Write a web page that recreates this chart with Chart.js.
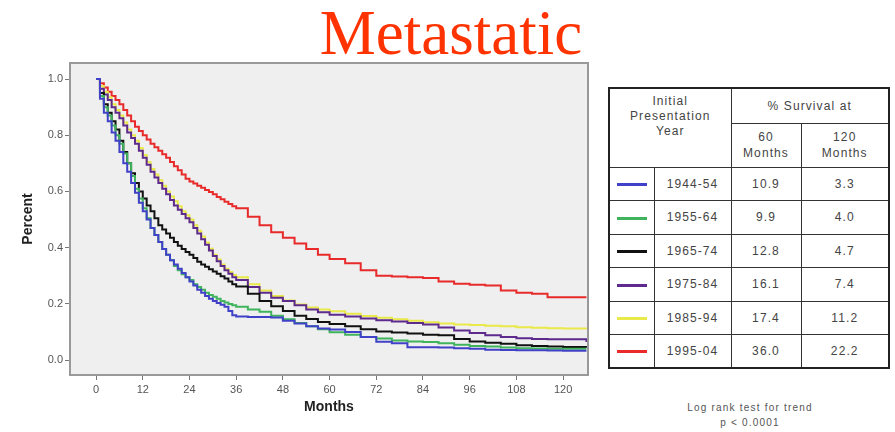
<!DOCTYPE html>
<html>
<head>
<meta charset="utf-8">
<script src="https://cdn.jsdelivr.net/npm/chart.js@4.4.1/dist/chart.umd.min.js"></script>
<style>
  body { margin: 0; background: #fff; width: 895px; height: 432px; position: relative; overflow: hidden; font-family: "Liberation Sans", Arial, sans-serif; }
  #title { position: absolute; left: 451px; top: 2px; transform: translateX(-50%); font-family: "Liberation Serif", "Times New Roman", serif; font-size: 63px; line-height: 63px; color: #ff3300; white-space: nowrap; }
  #chart { position: absolute; left: 0; top: 0; }
  #tbl { position: absolute; left: 608px; top: 87px; border-collapse: collapse; border: 2px solid #222; color: #444; font-size: 12px; letter-spacing: 1.1px; }
  #tbl td { border: 1.5px solid #333; text-align: center; padding: 0; }
  .sw { display: inline-block; width: 30px; height: 3px; vertical-align: middle; }
  #note { position: absolute; left: 650px; width: 200px; top: 400px; text-align: center; font-size: 10px; line-height: 15px; letter-spacing: 1.2px; color: #555; }
</style>
</head>
<body>
<div id="title">Metastatic</div>
<canvas id="chart" width="600" height="432"></canvas>
<table id="tbl"></table>
<div id="note">Log rank test for trend<br>p &lt; 0.0001</div>
<script>
// survival table
const periods = ['1944-54', '1955-64', '1965-74', '1975-84', '1985-94', '1995-04'];
const colors = ['#4040c8', '#3fb45c', '#111111', '#5e2a8e', '#e9e94a', '#e82a2a'];
const surv60 = ['10.9', '9.9', '12.8', '16.1', '17.4', '36.0'];
const surv120 = ['3.3', '4.0', '4.7', '7.4', '11.2', '22.2'];

// Kaplan-Meier curves (monthly up to 36, then coarser)
const months = [0, 1, 2, 3, 4, 5, 6, 7, 8, 9, 10, 11, 12, 13, 14, 15, 16, 17, 18, 19, 20, 21, 22, 23, 24,
  25, 26, 27, 28, 29, 30, 31, 32, 33, 34, 35, 36,
  39, 42, 45, 48, 51, 54, 57, 60,
  64, 68, 72, 76, 80, 84, 88, 92, 96, 100, 104, 108, 112, 116, 120, 126];
const s1944 = [1.0, 0.93, 0.88, 0.85, 0.81, 0.78, 0.74, 0.70, 0.67, 0.63, 0.595, 0.56, 0.53, 0.50, 0.47, 0.445, 0.42,
  0.395, 0.375, 0.355, 0.34, 0.325, 0.31, 0.295, 0.28, 0.265, 0.25, 0.24, 0.228, 0.218, 0.21, 0.203, 0.197, 0.19,
  0.175, 0.16, 0.155,
  0.153, 0.153, 0.152, 0.14, 0.13, 0.12, 0.112, 0.109,
  0.10, 0.082, 0.065, 0.06, 0.046, 0.046, 0.045, 0.042, 0.04, 0.037, 0.036, 0.035, 0.035, 0.034, 0.033, 0.033];
const s1955 = [1.0, 0.94, 0.90, 0.87, 0.835, 0.80, 0.77, 0.735, 0.70, 0.655, 0.61, 0.575, 0.54, 0.505, 0.47, 0.445, 0.42,
  0.395, 0.375, 0.355, 0.335, 0.32, 0.305, 0.295, 0.285, 0.27, 0.26, 0.25, 0.24, 0.232, 0.225, 0.218, 0.21, 0.205,
  0.2, 0.195, 0.19,
  0.18, 0.172, 0.158, 0.145, 0.132, 0.12, 0.11, 0.099,
  0.09, 0.082, 0.077, 0.07, 0.066, 0.064, 0.06, 0.055, 0.05, 0.048, 0.045, 0.042, 0.041, 0.04, 0.04, 0.04];
const s1965 = [1.0, 0.95, 0.91, 0.88, 0.85, 0.82, 0.78, 0.74, 0.70, 0.665, 0.63, 0.60, 0.575, 0.55, 0.53, 0.505, 0.48,
  0.465, 0.45, 0.435, 0.42, 0.407, 0.395, 0.385, 0.375, 0.363, 0.35, 0.34, 0.332, 0.323, 0.315, 0.307, 0.298, 0.29,
  0.28, 0.27, 0.262,
  0.236, 0.21, 0.192, 0.175, 0.158, 0.146, 0.136, 0.128,
  0.12, 0.11, 0.102, 0.098, 0.095, 0.09, 0.088, 0.075, 0.066, 0.062, 0.058, 0.053, 0.05, 0.048, 0.047, 0.045];
const s1975 = [1.0, 0.965, 0.945, 0.925, 0.90, 0.88, 0.86, 0.835, 0.81, 0.79, 0.77, 0.745, 0.72, 0.695, 0.67, 0.65, 0.63,
  0.61, 0.59, 0.57, 0.55, 0.535, 0.52, 0.505, 0.49, 0.47, 0.45, 0.43, 0.41, 0.39, 0.37, 0.352, 0.335, 0.32,
  0.307, 0.295, 0.285,
  0.26, 0.24, 0.222, 0.21, 0.195, 0.18, 0.17, 0.161,
  0.155, 0.148, 0.142, 0.137, 0.132, 0.127, 0.116, 0.105, 0.096, 0.088, 0.082, 0.078, 0.075, 0.074, 0.074, 0.064];
const s1985 = [1.0, 0.975, 0.955, 0.935, 0.91, 0.89, 0.87, 0.845, 0.82, 0.80, 0.78, 0.755, 0.73, 0.705, 0.68, 0.66, 0.64,
  0.62, 0.60, 0.582, 0.565, 0.547, 0.53, 0.515, 0.50, 0.48, 0.46, 0.44, 0.418, 0.396, 0.375, 0.358, 0.34, 0.325,
  0.313, 0.303, 0.295,
  0.27, 0.248, 0.228, 0.212, 0.198, 0.187, 0.18, 0.174,
  0.165, 0.157, 0.151, 0.145, 0.14, 0.135, 0.13, 0.127, 0.125, 0.122, 0.12, 0.117, 0.115, 0.113, 0.112, 0.11];
const s1995 = [1.0, 0.985, 0.97, 0.955, 0.94, 0.925, 0.91, 0.89, 0.87, 0.85, 0.83, 0.815, 0.80, 0.785, 0.77, 0.757, 0.745,
  0.732, 0.72, 0.705, 0.69, 0.675, 0.66, 0.645, 0.635, 0.628, 0.62, 0.613, 0.605, 0.598, 0.59, 0.58, 0.572, 0.563,
  0.555, 0.547, 0.54,
  0.51, 0.48, 0.455, 0.435, 0.415, 0.395, 0.375, 0.36,
  0.345, 0.32, 0.30, 0.297, 0.295, 0.292, 0.28, 0.272, 0.268, 0.265, 0.248, 0.24, 0.236, 0.224, 0.224, 0.224];
const curves = [s1944, s1955, s1965, s1975, s1985, s1995];

const xTicks = [0, 12, 24, 36, 48, 60, 72, 84, 96, 108, 120];
const yTicks = [0, 0.2, 0.4, 0.6, 0.8, 1.0];

// build the table on the right
const tbl = document.getElementById('tbl');
let html = '<colgroup><col style="width:45px"><col style="width:77px"><col style="width:70px"><col style="width:88px"></colgroup>';
html += '<tr style="height:35px"><td colspan="2" rowspan="2" style="line-height:15px;vertical-align:top;padding-top:5px">Initial<br>Presentation<br>Year</td>' +
        '<td colspan="2">% Survival at</td></tr>';
html += '<tr style="height:44px"><td style="line-height:16px">60<br>Months</td><td style="line-height:16px">120<br>Months</td></tr>';
periods.forEach((p, i) => {
  html += '<tr style="height:33.5px"><td><span class="sw" style="background:' + colors[i] + '"></span></td>' +
          '<td>' + p + '</td><td>' + surv60[i] + '</td><td>' + surv120[i] + '</td></tr>';
});
tbl.innerHTML = html;

const framePlugin = {
  id: 'frame',
  beforeDraw(chart) {
    const { ctx, chartArea: a } = chart;
    ctx.save();
    ctx.fillStyle = '#efefef';
    ctx.fillRect(a.left, a.top, a.right - a.left, a.bottom - a.top);
    ctx.restore();
  },
  afterDraw(chart) {
    const { ctx, chartArea: a } = chart;
    ctx.save();
    ctx.strokeStyle = '#999';
    ctx.lineWidth = 2;
    ctx.strokeRect(a.left, a.top, a.right - a.left, a.bottom - a.top);
    ctx.restore();
  }
};

const ctx = document.getElementById('chart').getContext('2d');
new Chart(ctx, {
  type: 'line',
  data: {
    datasets: periods.map((p, i) => ({
      label: p,
      data: months.map((m, j) => ({ x: m, y: curves[i][j] })),
      borderColor: colors[i],
      borderWidth: 2,
      pointRadius: 0,
      stepped: true,
      fill: false,
    })),
  },
  options: {
    responsive: false,
    animation: false,
    layout: { padding: { top: 63, right: 12, left: 0, bottom: 0 } },
    plugins: { legend: { display: false }, tooltip: { enabled: false } },
    scales: {
      x: {
        type: 'linear',
        min: -6.7,
        max: 126.4,
        afterBuildTicks: (s) => { s.ticks = xTicks.map((v) => ({ value: v })); },
        afterFit: (s) => { s.height = 57; },
        grid: { drawOnChartArea: false, tickLength: 5, color: '#777' },
        border: { display: false },
        ticks: { padding: 3, color: '#555', autoSkip: false, maxRotation: 0, font: { size: 11, family: 'Liberation Sans' } },
        title: { display: true, text: 'Months', color: '#222', font: { size: 14, weight: 'bold', family: 'Liberation Sans' }, padding: { top: 0, bottom: 16 } },
      },
      y: {
        type: 'linear',
        min: -0.053,
        max: 1.057,
        afterBuildTicks: (s) => { s.ticks = yTicks.map((v) => ({ value: v })); },
        afterFit: (s) => { s.width = 70; },
        grid: { drawOnChartArea: false, tickLength: 5, color: '#777' },
        border: { display: false },
        ticks: { padding: 2, color: '#555', font: { size: 11, family: 'Liberation Sans' }, callback: (v) => v.toFixed(1) },
        title: { display: true, text: 'Percent', color: '#222', font: { size: 14, weight: 'bold', family: 'Liberation Sans' }, padding: { top: 20, bottom: 0 } },
      },
    },
  },
  plugins: [framePlugin],
});
</script>
</body>
</html>
